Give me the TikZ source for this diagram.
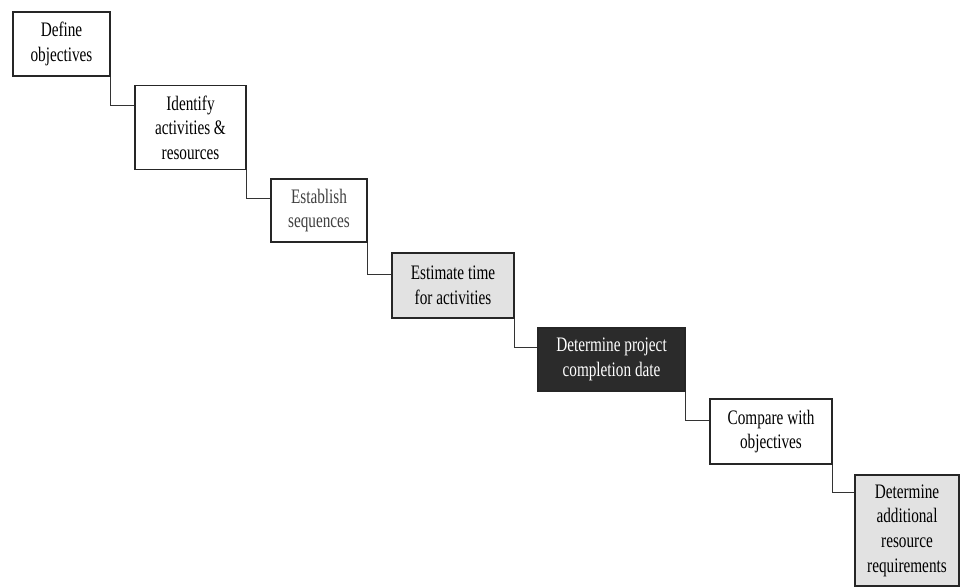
\documentclass[tikz,border=0pt]{standalone}
\usepackage{fontspec}
\setmainfont[FakeStretch=0.74]{Liberation Serif}
\usetikzlibrary{positioning}

\definecolor{lightfill}{HTML}{E2E2E2}
\definecolor{darkfill}{HTML}{2B2B2B}

\tikzset{
    stepnode/.style={draw=black!85, line width=0.55pt, fill=white, align=center,
        inner sep=1pt, font=\fontsize{10.3}{12.3}\selectfont},
    link/.style={draw=black!80, line width=0.5pt}
}

\begin{document}
\begin{tikzpicture}[x=0.5pt, y=-0.5pt]
        \useasboundingbox (0,0) rectangle (960,587);

        % kroky
        \node[stepnode, minimum width=48.5pt, minimum height=32pt] (objectives) at (61.5,44) {Define\\objectives};
        \node[stepnode, minimum width=55.5pt, minimum height=42pt] (activities) at (190.5,127.5) {Identify\\activities \&\\resources};
        \node[stepnode, minimum width=48pt, minimum height=31.5pt, text=black!75] (sequences) at (319,210.5) {Establish\\sequences};
        \node[stepnode, fill=lightfill, minimum width=61pt, minimum height=32.5pt] (estimate) at (453,285.5) {Estimate time\\for activities};
        \node[stepnode, fill=darkfill, text=white, minimum width=73.5pt, minimum height=31.5pt] (completion) at (611.5,359.5) {Determine project\\completion date};
        \node[stepnode, minimum width=61pt, minimum height=32.5pt] (compare) at (771,431.5) {Compare with\\objectives};
        \node[stepnode, fill=lightfill, minimum width=52pt, minimum height=55.5pt] (additional) at (907,530.5) {Determine\\additional\\resource\\requirements};

        % spojnice
        \draw[link] (objectives.south east) |- ([yshift=-10.5pt]activities.north west);
        \draw[link] (activities.south east) |- ([yshift=-10pt]sequences.north west);
        \draw[link] (sequences.south east) |- ([yshift=-11pt]estimate.north west);
        \draw[link] (estimate.south east) |- ([yshift=-10pt]completion.north west);
        \draw[link] (completion.south east) |- ([yshift=-11pt]compare.north west);
        \draw[link] (compare.south east) |- ([yshift=-9pt]additional.north west);
    \end{tikzpicture}
\end{document}
